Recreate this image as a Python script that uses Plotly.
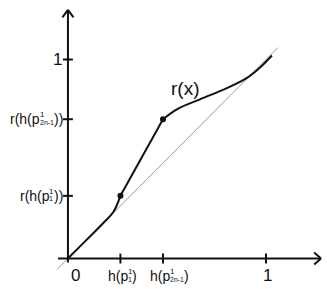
import plotly.graph_objects as go

# ---- data ----
seg1_x = [0, 0.09, 0.18, 0.23, 0.265]
seg1_y = [0, 0.09, 0.18, 0.235, 0.315]
seg2_x = [0.265, 0.48]
seg2_y = [0.315, 0.70]
seg3_x = [0.48, 0.55, 0.667, 0.80, 0.90, 0.97, 1.03]
seg3_y = [0.70, 0.75, 0.80, 0.855, 0.905, 0.96, 1.02]
point_x = [0.265, 0.48]
point_y = [0.315, 0.70]
diag_x = [-0.055, 1.06]
diag_y = [-0.055, 1.06]

xtick_vals = [0.265, 0.48, 1.0]
ytick_vals = [0.315, 0.70, 1.0]
# label parts: (prefix, superscript, subscript, suffix)
xtick_parts = [("h(p", "1", "1", ")"), ("h(p", "1", "2n-1", ")"), ("1", "", "", "")]
ytick_parts = [("r(h(p", "1", "1", "))"), ("r(h(p", "1", "2n-1", "))"), ("1", "", "", "")]
curve_label = "r(x)"

FONT = "Liberation Sans, Arial, sans-serif"
BLK = "#111111"
W = {"h": 556, "(": 333, ")": 333, "p": 556, "r": 333, "1": 556, "2": 556, "n": 556, "-": 333}


def tw(s, size):
    return sum(W.get(c, 556) for c in s) * size / 1000.0


MAIN, SUP, SUB = 14, 8, 7

fig = go.Figure()
fig.add_trace(go.Scatter(x=diag_x, y=diag_y, mode="lines",
                         line=dict(color="#9a9a9a", width=1), hoverinfo="skip"))
for sx, sy, shp in [(seg1_x, seg1_y, "spline"), (seg2_x, seg2_y, "linear"), (seg3_x, seg3_y, "spline")]:
    fig.add_trace(go.Scatter(x=sx, y=sy, mode="lines", line=dict(color=BLK, width=2, shape=shp),
                             hoverinfo="skip"))
fig.add_trace(go.Scatter(x=point_x, y=point_y, mode="markers",
                         marker=dict(color=BLK, size=6), hoverinfo="skip"))

shapes = []
# axes
shapes.append(dict(type="line", x0=-0.05, y0=0, x1=1.278, y1=0, line=dict(color=BLK, width=2)))
shapes.append(dict(type="line", x0=0, y0=-0.02, x1=0, y1=1.249, line=dict(color=BLK, width=2)))
# arrow heads (open chevrons)
shapes.append(dict(type="line", x0=1.278, y0=0, x1=1.243, y1=0.03, line=dict(color=BLK, width=2)))
shapes.append(dict(type="line", x0=1.278, y0=0, x1=1.243, y1=-0.03, line=dict(color=BLK, width=2)))
shapes.append(dict(type="line", x0=0, y0=1.249, x1=-0.028, y1=1.212, line=dict(color=BLK, width=2)))
shapes.append(dict(type="line", x0=0, y0=1.249, x1=0.028, y1=1.212, line=dict(color=BLK, width=2)))
# ticks
for v in xtick_vals:
    shapes.append(dict(type="line", x0=v, y0=-0.025, x1=v, y1=0.025, line=dict(color=BLK, width=2)))
for v in ytick_vals:
    shapes.append(dict(type="line", x0=-0.025, y0=v, x1=0.025, y1=v, line=dict(color=BLK, width=2)))

ann = []


def txt(x, y, t, size, xa, xs=0, ys=0):
    ann.append(dict(x=x, y=y, text=t, showarrow=False, xanchor=xa, yanchor="middle",
                    xshift=xs, yshift=ys, font=dict(family=FONT, size=size, color=BLK)))


def compound(x, y, parts, left_px, ysup, ysub):
    pre, sup, sub, suf = parts
    wpre = tw(pre, MAIN)
    wscr = max(tw(sup, SUP), tw(sub, SUB))
    txt(x, y, pre, MAIN, "left", left_px)
    txt(x, y, sup, SUP, "left", left_px + wpre, ysup)
    txt(x, y, sub, SUB, "left", left_px + wpre, ysub)
    txt(x, y, suf, MAIN, "left", left_px + wpre + wscr)
    return wpre + wscr + tw(suf, MAIN)


X_LAB_Y = -0.088
for v, parts, off in zip(xtick_vals, xtick_parts, [0, 4, 0]):
    if parts[1] == "":
        txt(v, -0.083, parts[0], 17, "center", 1)
        continue
    total = tw(parts[0], MAIN) + max(tw(parts[1], SUP), tw(parts[2], SUB)) + tw(parts[3], MAIN)
    compound(v, X_LAB_Y, parts, -total / 2 + off, 5, -3.5)

for v, parts in zip(ytick_vals, ytick_parts):
    if parts[1] == "":
        txt(-0.02, v, parts[0], 17, "right")
        continue
    total = tw(parts[0], MAIN) + max(tw(parts[1], SUP), tw(parts[2], SUB)) + tw(parts[3], MAIN)
    compound(-0.035, v, parts, -total, 4.5, -3)

txt(0.04, -0.083, "0", 17, "center")
txt(0.59, 0.852, curve_label, 19, "center")

fig.update_layout(
    width=327, height=289, margin=dict(l=0, r=0, t=0, b=0),
    paper_bgcolor="white", plot_bgcolor="white", showlegend=False,
    xaxis=dict(range=[-0.343, 1.308], visible=False),
    yaxis=dict(range=[-0.153, 1.299], visible=False),
    shapes=shapes, annotations=ann,
)
fig.write_html("out.html", config={"displayModeBar": False},
               post_script="document.body.style.margin='0';")
